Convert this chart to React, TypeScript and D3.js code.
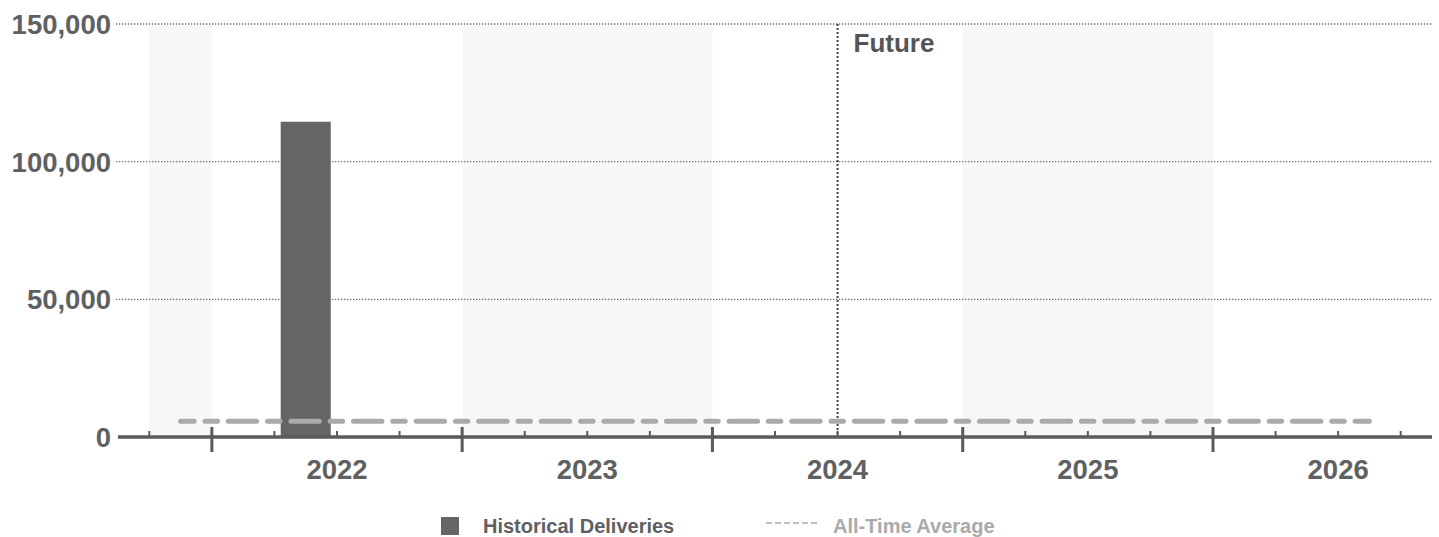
import React from 'react';
import * as d3 from 'd3';

const quarters = [
  '2021 Q4',
  '2022 Q1', '2022 Q2', '2022 Q3', '2022 Q4',
  '2023 Q1', '2023 Q2', '2023 Q3', '2023 Q4',
  '2024 Q1', '2024 Q2', '2024 Q3', '2024 Q4',
  '2025 Q1', '2025 Q2', '2025 Q3', '2025 Q4',
  '2026 Q1', '2026 Q2', '2026 Q3',
];
const deliveries = [
  0,
  0, 114500, 0, 0,
  0, 0, 0, 0,
  0, 0, 0, 0,
  0, 0, 0, 0,
  0, 0, 0,
];
const allTimeAverage = 5725;
const years = ['2022', '2023', '2024', '2025', '2026'];
const shadedYears = ['2021', '2023', '2025'];
const yTicks = [0, 50000, 100000, 150000];
const futureStart = '2024 Q3';
const futureLabel = 'Future';
const legendItems = ['Historical Deliveries', 'All-Time Average'];

const W = 1439;
const H = 537;
const FONT = '"Liberation Sans", Arial, sans-serif';
const TEXT = '#5f6061';
const BAR = '#636566';
const AVG = '#a9aaab';
const AXIS = '#595a5b';

export default function App() {
  const nQ = quarters.length + 1; // include the axis tick after last quarter
  const x = d3.scaleLinear().domain([-0.5, nQ - 0.5]).range([118, 1432]);
  const y = d3.scaleLinear().domain([0, 150000]).range([437, 24]);
  const qw = x(1) - x(0);

  const yearOf = (q: string) => q.slice(0, 4);
  const qIndex = (label: string) => quarters.indexOf(label);

  const bands = shadedYears.map((yr) => {
    const idx = quarters.map((q, i) => (yearOf(q) === yr ? i : -1)).filter((i) => i >= 0);
    const s = d3.min(idx) as number;
    const e = (d3.max(idx) as number) + 1;
    return { yr, s, e };
  });

  const yearStarts = years.map((yr) => qIndex(`${yr} Q1`));
  const futureIdx = qIndex(futureStart);
  const tickIdx = d3.range(0, nQ);

  const avgPath = d3.line<number>()
    .x((i) => x(i + 0.5))
    .y(() => y(allTimeAverage))(quarters.map((_, i) => i)) as string;

  return (
    <div style={{ position: 'fixed', left: 0, top: 0 }}>
      <svg width={W} height={H} style={{ display: 'block', background: '#fff' }} fontFamily={FONT}>
        {bands.map((b) => (
          <rect key={b.yr} x={x(b.s)} y={26} width={x(b.e) - x(b.s)} height={y(0) - 26} fill="#f7f7f7" />
        ))}
        {yTicks.filter((t) => t > 0).map((t) => (
          <line key={t} x1={116} x2={1432} y1={y(t)} y2={y(t)} stroke="#6a6a6a" strokeWidth={1.3} strokeDasharray="1.3 1.7" />
        ))}
        {yTicks.map((t) => (
          <text key={t} x={111} y={y(t)} dy="0.36em" textAnchor="end" fontSize={27.5} fontWeight="bold" fill={TEXT}>
            {d3.format(',')(t)}
          </text>
        ))}
        {quarters.map((q, i) =>
          deliveries[i] > 0 ? (
            <rect key={q} x={x(i + 0.1)} y={y(deliveries[i])} width={qw * 0.8} height={y(0) - y(deliveries[i])} fill={BAR} />
          ) : null
        )}
        <line x1={x(futureIdx)} x2={x(futureIdx)} y1={24} y2={y(0)} stroke="#444" strokeWidth={2} strokeDasharray="2 2" />
        <text x={x(futureIdx) + 16} y={52} fontSize={26} fontWeight="bold" fill="#545556">{futureLabel}</text>
        <path d={avgPath} fill="none" stroke={AVG} strokeWidth={5} strokeLinecap="round"
          strokeDasharray="28.5 10.8 12.5 10.8" strokeDashoffset={14.9} />
        <line x1={118} x2={1432} y1={y(0)} y2={y(0)} stroke={AXIS} strokeWidth={3.5} />
        {tickIdx.map((i) =>
          yearStarts.includes(i) ? (
            <line key={i} x1={x(i)} x2={x(i)} y1={427} y2={452} stroke={AXIS} strokeWidth={3} />
          ) : (
            <line key={i} x1={x(i)} x2={x(i)} y1={431} y2={437} stroke={AXIS} strokeWidth={2} />
          )
        )}
        {years.map((yr, k) => (
          <text key={yr} x={x(yearStarts[k] + 2)} y={479} textAnchor="middle" fontSize={27.5} fontWeight="bold" fill={TEXT}>
            {yr}
          </text>
        ))}
        <g>
          <rect x={441} y={517} width={18} height={18} fill={BAR} />
          <text x={483} y={533} fontSize={20} fontWeight="bold" fill={TEXT}>{legendItems[0]}</text>
          <line x1={766} x2={820} y1={523} y2={523} stroke={AVG} strokeWidth={1.5} strokeDasharray="6 3" />
          <text x={833} y={533} fontSize={20} fontWeight="bold" fill={AVG}>{legendItems[1]}</text>
        </g>
      </svg>
    </div>
  );
}
